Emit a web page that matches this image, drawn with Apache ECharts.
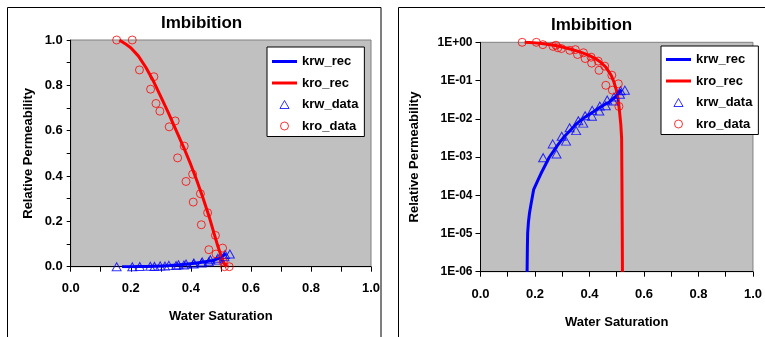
<!DOCTYPE html>
<html>
<head>
<meta charset="utf-8">
<script src="https://cdn.jsdelivr.net/npm/echarts@6/dist/echarts.min.js"></script>
<style>
  html, body { margin: 0; padding: 0; background: #fff; }
  #chart { width: 765px; height: 337px; }
</style>
</head>
<body>
<div id="chart"></div>
<script>
// Measured water relative permeability (krw) vs water saturation
const swKrwData = [0.153, 0.205, 0.230, 0.265, 0.279, 0.298, 0.314, 0.327, 0.351, 0.359, 0.377, 0.384,
                   0.409, 0.410, 0.436, 0.438, 0.460, 0.465, 0.487, 0.490, 0.512, 0.514, 0.530];
const krwData   = [0, 0, 0.00096, 0.0022, 0.0012, 0.0035, 0.0026, 0.0058, 0.0049, 0.0089, 0.0077, 0.012,
                   0.0117, 0.0166, 0.016, 0.0214, 0.022, 0.031, 0.029, 0.037, 0.044, 0.054, 0.056];

// Measured oil relative permeability (kro) vs water saturation
const swKroData = [0.153, 0.205, 0.229, 0.266, 0.277, 0.284, 0.297, 0.328, 0.348, 0.356, 0.378, 0.384,
                   0.406, 0.408, 0.432, 0.435, 0.456, 0.460, 0.482, 0.484, 0.506, 0.508, 0.512, 0.528];
const kroData   = [1.0, 1.0, 0.868, 0.783, 0.838, 0.72, 0.686, 0.617, 0.643, 0.48, 0.532, 0.376,
                   0.408, 0.285, 0.322, 0.185, 0.238, 0.075, 0.138, 0.056, 0.082, 0.021, 0, 0];

// Reconstructed krw curve
const swKrwRec = [0.171, 0.172, 0.173, 0.176, 0.180, 0.186, 0.195, 0.210, 0.222, 0.237, 0.253, 0.280,
                  0.307, 0.330, 0.354, 0.383, 0.413, 0.443, 0.473, 0.500, 0.517];
const krwRec   = [1e-6, 4e-6, 1e-5, 2e-5, 3.5e-5, 6.2e-5, 1.4e-4, 2.4e-4, 3.7e-4, 6e-4, 1.0e-3, 1.9e-3,
                  3.4e-3, 5e-3, 7.6e-3, 0.011, 0.015, 0.021, 0.0275, 0.04, 0.058];

// Reconstructed kro curve
const swKroRec = [0.162, 0.180, 0.200, 0.225, 0.250, 0.275, 0.300, 0.325, 0.350, 0.375, 0.400, 0.420,
                  0.440, 0.460, 0.480, 0.490, 0.500, 0.505, 0.510, 0.515, 0.518, 0.519, 0.520, 0.521];
const kroRec   = [1.0, 0.985, 0.966, 0.93, 0.88, 0.82, 0.75, 0.68, 0.605, 0.53, 0.45, 0.38,
                  0.305, 0.225, 0.135, 0.09, 0.052, 0.034, 0.016, 0.007, 0.003, 3e-4, 2e-5, 1e-6];

const seriesNames = ['krw_rec', 'kro_rec', 'krw_data', 'kro_data'];
const chartTitle = 'Imbibition';
const xName = 'Water Saturation';
const yName = 'Relative Permeability';

const FONT = '"Liberation Sans", Arial, sans-serif';
const BLUE = '#0000ff';
const RED = '#ff0000';

const zip = (xs, ys) => xs.map((x, i) => [x, ys[i]]);
const positive = pts => pts.filter(p => p[1] > 0);

const LINE_ICON = 'path://M0,0H25V3H0Z';
const TRI_ICON = 'path://M4,0L8,7L0,7Z';

function legendCfg(left, top, padding) {
  return {
    orient: 'vertical', left, top, padding,
    itemWidth: 25, itemHeight: 8, itemGap: 8.5,
    backgroundColor: '#fff', borderColor: '#000', borderWidth: 1, borderRadius: 0,
    selectedMode: false,
    textStyle: { fontFamily: FONT, fontSize: 13, fontWeight: 'bold', color: '#000' },
    data: [
      { name: seriesNames[0], icon: LINE_ICON, itemStyle: { color: BLUE, borderWidth: 0 } },
      { name: seriesNames[1], icon: LINE_ICON, itemStyle: { color: RED, borderWidth: 0 } },
      { name: seriesNames[2], icon: TRI_ICON, itemStyle: { color: 'transparent', borderColor: BLUE, borderWidth: 1 } },
      { name: seriesNames[3], icon: 'circle', itemStyle: { color: 'transparent', borderColor: RED, borderWidth: 1 } }
    ]
  };
}

function xAxisCfg(gridIndex, labelMargin, nameGap) {
  return {
    type: 'value', gridIndex, min: 0, max: 1, interval: 0.2,
    name: xName, nameLocation: 'middle', nameGap,
    nameTextStyle: { fontFamily: FONT, fontSize: 13, fontWeight: 'bold', color: '#000' },
    axisLine: { show: true, onZero: false, lineStyle: { color: '#000', width: 1 } },
    axisTick: { show: true, inside: false, length: 5, lineStyle: { color: '#000' } },
    minorTick: { show: true, splitNumber: 2, length: 5, lineStyle: { color: '#000' } },
    splitLine: { show: false }, minorSplitLine: { show: false },
    axisLabel: { fontFamily: FONT, fontSize: 13, fontWeight: 'bold', color: '#000', margin: labelMargin,
                 alignMinLabel: 'center', alignMaxLabel: 'center',
                 formatter: v => v.toFixed(1) }
  };
}

function expLabel(v) {
  const e = Math.round(Math.log10(v));
  const a = Math.abs(e);
  return '1E' + (e < 0 ? '-' : '+') + (a < 10 ? '0' : '') + a;
}

function seriesFor(idx, filter) {
  const f = filter ? positive : (p => p);
  return [
    { name: seriesNames[0], type: 'line', xAxisIndex: idx, yAxisIndex: idx, data: f(zip(swKrwRec, krwRec)),
      symbol: 'none', color: BLUE, lineStyle: { color: BLUE, width: 3, join: 'round' }, z: 2 },
    { name: seriesNames[1], type: 'line', xAxisIndex: idx, yAxisIndex: idx, data: f(zip(swKroRec, kroRec)),
      symbol: 'none', color: RED, lineStyle: { color: RED, width: 3, join: 'round' }, z: 2 },
    { name: seriesNames[2], type: 'scatter', xAxisIndex: idx, yAxisIndex: idx, data: f(zip(swKrwData, krwData)),
      symbol: 'triangle', symbolSize: [9, 8], color: BLUE,
      itemStyle: { color: 'transparent', borderColor: BLUE, borderWidth: 1 }, z: 3 },
    { name: seriesNames[3], type: 'scatter', xAxisIndex: idx, yAxisIndex: idx, data: f(zip(swKroData, kroData)),
      symbol: 'circle', symbolSize: 8, color: RED,
      itemStyle: { color: 'transparent', borderColor: RED, borderWidth: 1 }, z: 3 }
  ];
}

const chart = echarts.init(document.getElementById('chart'), null, { renderer: 'canvas' });

chart.setOption({
  animation: false,
  backgroundColor: '#fff',
  graphic: [
    { type: 'rect', silent: true, z: 0, shape: { x: 7.5, y: 7.5, width: 373.5, height: 345 },
      style: { fill: 'none', stroke: '#000', lineWidth: 1 } },
    { type: 'rect', silent: true, z: 0, shape: { x: 398.5, y: 7.5, width: 380, height: 345 },
      style: { fill: 'none', stroke: '#000', lineWidth: 1 } }
  ],
  title: [
    { text: chartTitle, left: 161, top: 15, padding: 0,
      textStyle: { fontFamily: FONT, fontSize: 17, fontWeight: 'bold', color: '#000' } },
    { text: chartTitle, left: 551, top: 17, padding: 0,
      textStyle: { fontFamily: FONT, fontSize: 17, fontWeight: 'bold', color: '#000' } }
  ],
  legend: [
    legendCfg(267, 47, [8, 6, 4, 5]),
    legendCfg(661, 46, [7, 6, 4, 5])
  ],
  grid: [
    { left: 70.7, top: 40, width: 300.3, height: 226.7, show: true,
      backgroundColor: '#c0c0c0', borderColor: '#808080', borderWidth: 1 },
    { left: 480.5, top: 42.3, width: 281, height: 229.4, show: true,
      backgroundColor: '#c0c0c0', borderColor: '#808080', borderWidth: 1 }
  ],
  xAxis: [xAxisCfg(0, 15, 43), xAxisCfg(1, 16, 44)],
  yAxis: [
    { type: 'value', gridIndex: 0, min: 0, max: 1, interval: 0.2,
      name: yName, nameLocation: 'middle', nameGap: 36, nameRotate: 90,
      nameTextStyle: { fontFamily: FONT, fontSize: 13, fontWeight: 'bold', color: '#000' },
      axisLine: { show: true, onZero: false, lineStyle: { color: '#000', width: 1 } },
      axisTick: { show: true, inside: false, length: 4, lineStyle: { color: '#000' } },
      minorTick: { show: true, splitNumber: 2, length: 4, lineStyle: { color: '#000' } },
      splitLine: { show: false }, minorSplitLine: { show: false },
      axisLabel: { fontFamily: FONT, fontSize: 13, fontWeight: 'bold', color: '#000', margin: 8,
                   formatter: v => v.toFixed(1) } },
    { type: 'log', logBase: 10, gridIndex: 1, min: 1e-6, max: 1, splitNumber: 6,
      name: yName, nameLocation: 'middle', nameGap: 60, nameRotate: 90,
      nameTextStyle: { fontFamily: FONT, fontSize: 13, fontWeight: 'bold', color: '#000' },
      axisLine: { show: true, onZero: false, lineStyle: { color: '#000', width: 1 } },
      axisTick: { show: true, inside: false, length: 5, lineStyle: { color: '#000' } },
      minorTick: { show: false },
      splitLine: { show: false }, minorSplitLine: { show: false },
      axisLabel: { fontFamily: FONT, fontSize: 12, fontWeight: 'bold', color: '#000', margin: 8,
                   formatter: expLabel } }
  ],
  series: [...seriesFor(0, false), ...seriesFor(1, true)]
});
</script>
</body>
</html>
